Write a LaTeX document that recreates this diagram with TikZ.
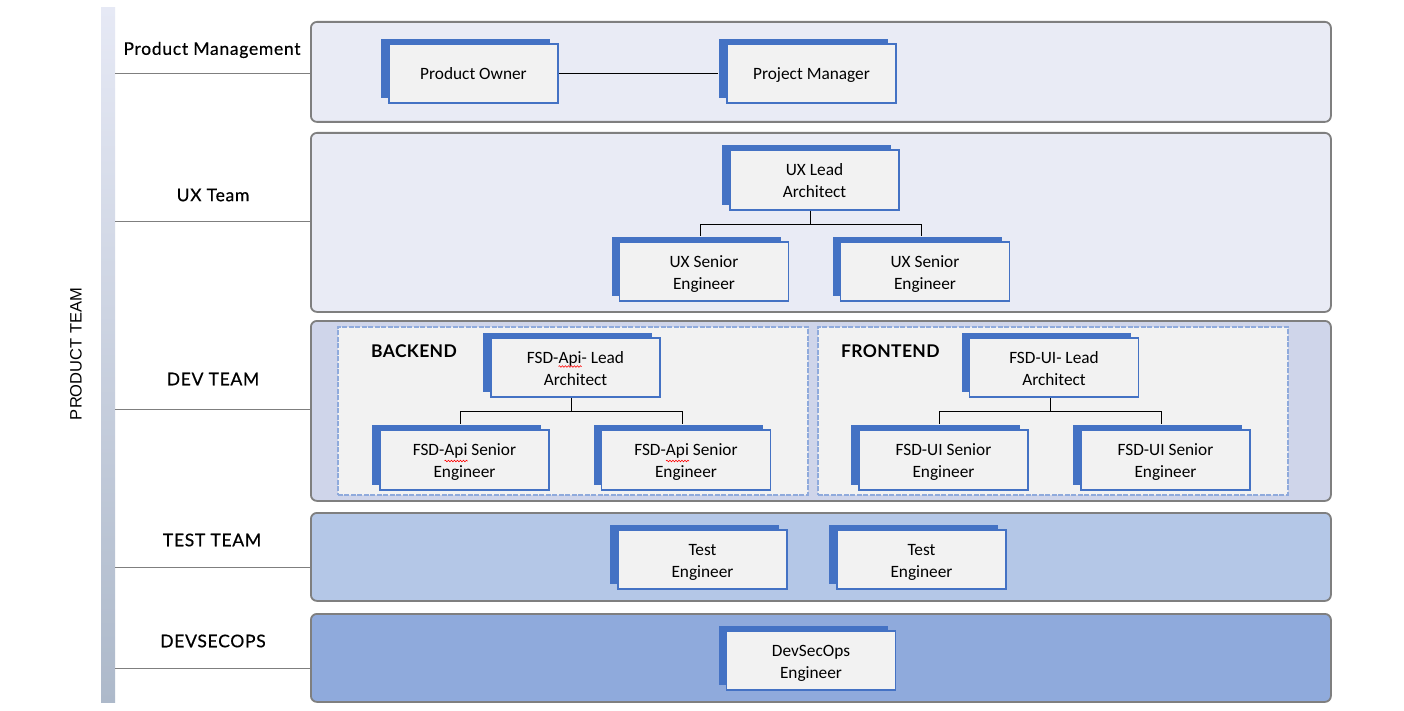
\documentclass[tikz,border=0pt]{standalone}
\usepackage{fontspec}
\setmainfont{Carlito}
\newfontfamily\lblfont[LetterSpace=4,FakeBold=0.5]{Lato}
\newfontfamily\grpfont[LetterSpace=2]{Lato}
\newfontfamily\arialfont{Liberation Sans}
\usetikzlibrary{shadows,decorations.pathmorphing,calc}
\definecolor{nodeblue}{HTML}{4472C4}
\definecolor{nodefill}{HTML}{F2F2F2}
\definecolor{panelgray}{HTML}{7F7F7F}
\definecolor{pA}{HTML}{E9EBF5}
\definecolor{pB}{HTML}{CFD5EA}
\definecolor{pC}{HTML}{B4C7E7}
\definecolor{pD}{HTML}{8FAADC}
\definecolor{dashblue}{HTML}{8FAADC}
\definecolor{barTop}{HTML}{E6E9F5}
\definecolor{barMid}{HTML}{B6C8E8}
\definecolor{barBot}{HTML}{ADB9CA}
\begin{document}
\begin{tikzpicture}[x=1pt,y=-1pt,
 role/.style={rectangle, draw=nodeblue, line width=1.6pt, fill=nodefill,
   minimum width=169pt, minimum height=59pt, align=center, inner sep=0pt,
   font=\fontsize{17.3}{22}\selectfont,
   text height=35.5pt, text depth=0pt,
   copy shadow={shadow xshift=-8pt, shadow yshift=5pt, fill=nodeblue, draw=none}},
 oneline/.style={text height=13pt, text depth=0pt},
 panel/.style={draw=panelgray, line width=1.8pt, rounded corners=6pt, anchor=north west, inner sep=0pt},
 group/.style={draw=dashblue, dash pattern=on 5pt off 1.5pt, line width=1.8pt, fill=nodefill, anchor=north west, inner sep=0pt},
 rowlabel/.style={font=\lblfont\fontsize{17.5}{20}\selectfont, text=black, inner sep=0pt},
 grouplabel/.style={font=\grpfont\bfseries\fontsize{17.5}{20}\selectfont, anchor=west, inner sep=0pt},
 sep/.style={draw=panelgray, line width=1pt},
 tree/.style={draw=black, line width=1pt},
 squig/.style={draw=red, line width=0.6pt, decorate, decoration={snake, segment length=3pt, amplitude=0.8pt}}
]
\useasboundingbox (0,0) rectangle (1404,711);
\fill[white] (0,0) rectangle (1404,711);

% left bar
\shade[top color=barTop, middle color=barMid, bottom color=barBot] (101,8) rectangle (115,702);
\coordinate (barR) at (115,0);
\node[font=\arialfont\fontsize{16.5}{18}\selectfont, rotate=90, inner sep=0pt] (pteam) at (76,354) {PRODUCT TEAM};

% panels
\node[panel, fill=pA, minimum width=1020pt, minimum height=100pt] (ppm) at (310,21) {};
\node[panel, fill=pA, minimum width=1020pt, minimum height=179pt] (pux) at (310,132) {};
\node[panel, fill=pB, minimum width=1020pt, minimum height=180pt] (pdev) at (310,320) {};
\node[panel, fill=pC, minimum width=1020pt, minimum height=88pt] (ptest) at (310,512) {};
\node[panel, fill=pD, minimum width=1020pt, minimum height=88pt] (pdso) at (310,613) {};

% row labels and separators
\node[rowlabel] (lpm) at (212,50) {Product Management};
\node[rowlabel] (lux) at (213,195) {UX Team};
\node[rowlabel] (ldev) at (213,379) {DEV TEAM};
\node[rowlabel] (ltest) at (212,540) {TEST TEAM};
\node[rowlabel] (ldso) at (213,641) {DEVSECOPS};
\foreach \yy/\pp in {74/ppm,222/pux,409/pdev,567/ptest,668/pdso}
  \draw[sep] (barR |- 0,\yy) -- (\pp.west |- 0,\yy);

% dev groups
\node[group, minimum width=470pt, minimum height=168pt] (gback) at (337,326) {};
\node[group, minimum width=470pt, minimum height=168pt] (gfront) at (817,326) {};
\node[grouplabel] (lback) at (371,351) {BACKEND};
\node[grouplabel] (lfront) at (841,351) {FRONTEND};

% roles
\node[role, oneline] (po) at (473.5,73.5) {Product Owner};
\node[role, oneline] (pm) at (811.5,73.5) {Project Manager};

\node[role, minimum height=60pt] (uxl) at (814.5,180) {UX Lead\\Architect};
\node[role] (ux1) at (704,271.5) {UX Senior\\Engineer};
\node[role] (ux2) at (925,271.5) {UX Senior\\Engineer};

\node[role] (apil) at (575.5,367.5) {FSD-Api- Lead\\Architect};
\node[role, minimum height=60pt] (api1) at (464.5,460) {FSD-Api Senior\\Engineer};
\node[role, minimum height=60pt] (api2) at (686,460) {FSD-Api Senior\\Engineer};

\node[role] (uil) at (1054,367.5) {FSD-UI- Lead\\Architect};
\node[role, minimum height=60pt] (ui1) at (943.5,460) {FSD-UI Senior\\Engineer};
\node[role, minimum height=60pt] (ui2) at (1165.5,460) {FSD-UI Senior\\Engineer};

\node[role] (t1) at (702.5,559.5) {Test\\Engineer};
\node[role] (t2) at (921.5,559.5) {Test\\Engineer};

\node[role] (dso) at (811,660.5) {DevSecOps\\Engineer};

% spell-check squiggles
\draw[squig] ([xshift=-17pt,yshift=1pt]apil.center) -- ([xshift=6pt,yshift=1pt]apil.center);
\draw[squig] ([xshift=-20pt,yshift=-1pt]api1.center) -- ([xshift=3pt,yshift=-1pt]api1.center);
\draw[squig] ([xshift=-20pt,yshift=-1pt]api2.center) -- ([xshift=3pt,yshift=-1pt]api2.center);

% connectors
\draw[tree] (po.east) -- ([xshift=-8pt]pm.west);
\foreach \l/\c in {uxl/ux1,uxl/ux2,apil/api1,apil/api2,uil/ui1,uil/ui2}
  \draw[tree] ([xshift=-4pt]\l.south) -- ++(0,13.5) -| ([xshift=-4pt,yshift=5pt]\c.north);
\end{tikzpicture}
\end{document}
